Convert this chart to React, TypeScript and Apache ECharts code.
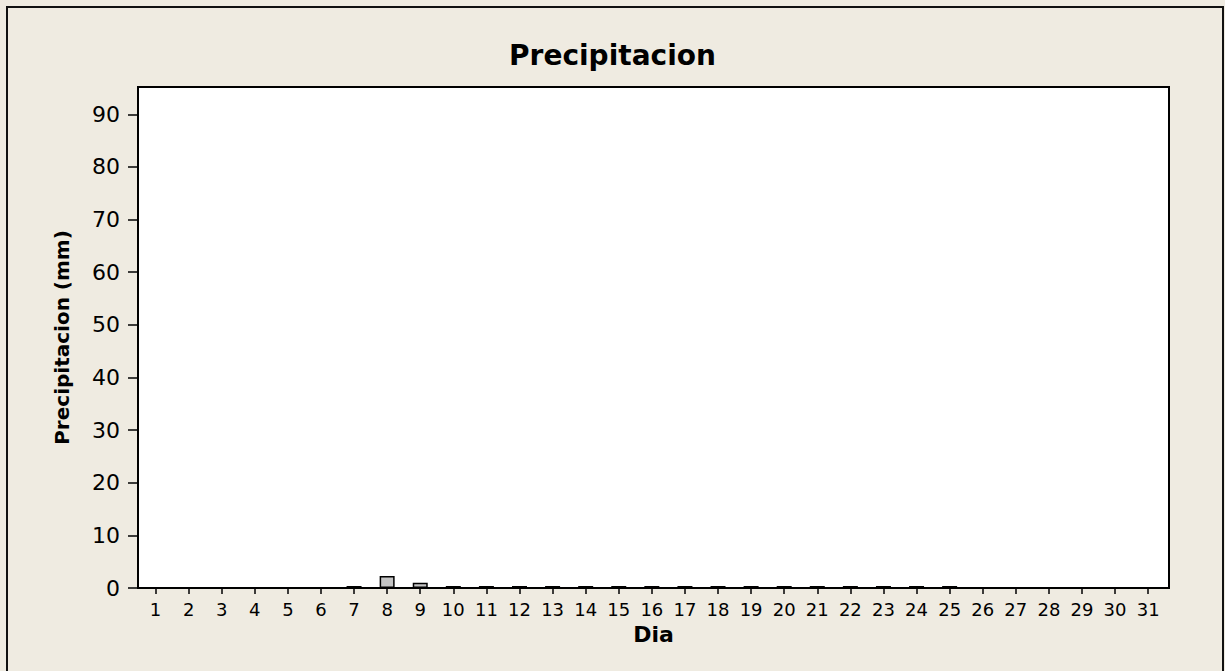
import React, { useEffect, useRef } from "react";
import * as echarts from "echarts";

const days: number[] = Array.from({ length: 31 }, (_, i) => i + 1);
// null = no record; 0 = recorded zero
const precip: (number | null)[] = [
  null, null, null, null, null, null, 0, 2.3, 1.0, 0,
  0, 0, 0, 0, 0, 0, 0, 0, 0, 0,
  0, 0, 0, 0, 0, null, null, null, null, null, null,
];
const yTicks: number[] = [0, 10, 20, 30, 40, 50, 60, 70, 80, 90];

export default function App() {
  const ref = useRef<HTMLDivElement>(null);
  useEffect(() => {
    document.body.style.margin = "0";
    const chart = echarts.init(ref.current!, null, { renderer: "svg" });
    const font = "'DejaVu Sans', Verdana, sans-serif";
    chart.setOption({
      animation: false,
      backgroundColor: "#EFEBE1",
      title: {
        text: "Precipitacion",
        left: "center",
        top: 36,
        textStyle: { fontFamily: font, fontWeight: "bold", fontSize: 28, color: "#000" },
      },
      graphic: [
        {
          type: "rect",
          shape: { x: 7, y: 7, width: 1216, height: 670 },
          style: { fill: "none", stroke: "#111", lineWidth: 2 },
          silent: true,
          z: 100,
        },
      ],
      grid: {
        left: 138,
        top: 87,
        right: 56,
        bottom: 83,
        show: true,
        backgroundColor: "#fff",
        borderColor: "#000",
        borderWidth: 2,
      },
      xAxis: {
        type: "value",
        min: 0.47,
        max: 31.63,
        name: "Dia",
        nameLocation: "middle",
        nameGap: 35,
        nameTextStyle: { fontFamily: font, fontWeight: "bold", fontSize: 22, color: "#000" },
        splitLine: { show: false },
        axisLine: { show: true, lineStyle: { color: "#000", width: 2 } },
        axisTick: {
          show: true,
          length: 6,
          lineStyle: { color: "#000", width: 1.5 },
          customValues: days,
        },
        axisLabel: {
          fontFamily: font,
          fontSize: 18,
          color: "#000",
          margin: 12,
          customValues: days,
        },
      },
      yAxis: {
        type: "value",
        min: 0,
        max: 95.2,
        name: "Precipitacion (mm)",
        nameLocation: "middle",
        nameGap: 66,
        nameTextStyle: { fontFamily: font, fontWeight: "bold", fontSize: 20, color: "#000" },
        splitLine: { show: false },
        axisLine: { show: true, lineStyle: { color: "#000", width: 2 } },
        axisTick: {
          show: true,
          length: 10,
          lineStyle: { color: "#000", width: 1.5 },
          customValues: yTicks,
        },
        axisLabel: {
          fontFamily: font,
          fontSize: 22,
          color: "#000",
          margin: 18,
          customValues: yTicks,
        },
      },
      series: [
        {
          type: "bar",
          data: days.map((d, i) => [d, precip[i]]),
          barWidth: 15,
          barMinHeight: 2,
          itemStyle: { color: "#C4C4C4", borderColor: "#000", borderWidth: 1.5 },
        },
      ],
    });
    return () => chart.dispose();
  }, []);
  return <div ref={ref} style={{ width: 1225, height: 671 }} />;
}
